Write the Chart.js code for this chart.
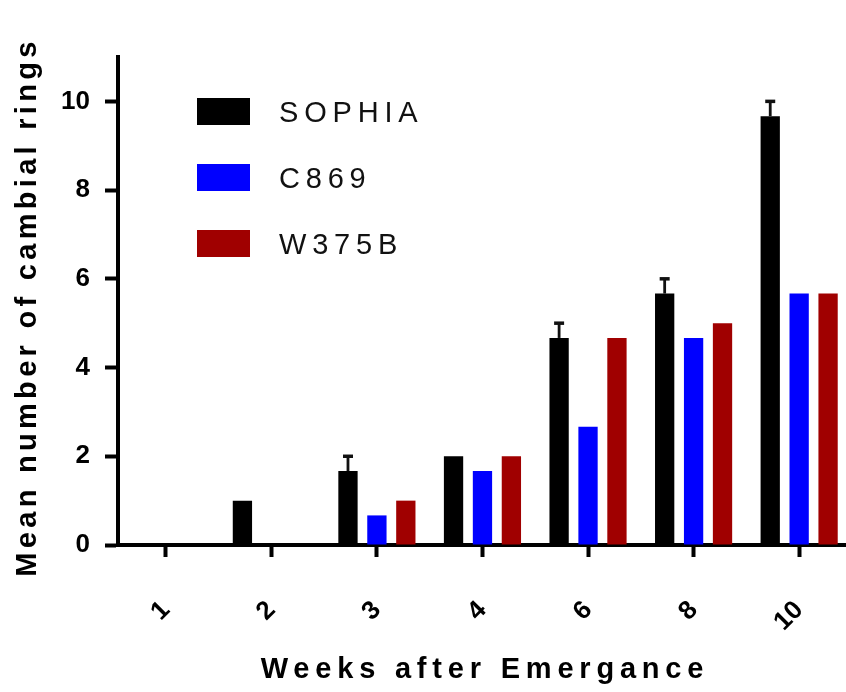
<!DOCTYPE html>
<html><head><meta charset="utf-8">
<script src="https://cdn.jsdelivr.net/npm/chart.js@4.4.0/dist/chart.umd.min.js"></script>
<style>html,body{margin:0;padding:0;background:#fff;overflow:hidden;} #wrap{width:860px;height:692px;}</style>
</head><body><div id="wrap"><canvas id="c" width="860" height="692"></canvas></div>
<script>
// ---- data ----
const weeks = ['1', '2', '3', '4', '6', '8', '10'];
const sophia = [0, 1, 1.667, 2, 4.667, 5.667, 9.667];
const sophiaErr = [0, 0, 0.333, 0, 0.333, 0.333, 0.333];
const c869 = [0, 0, 0.667, 1.667, 2.667, 4.667, 5.667];
const w375b = [0, 0, 1, 2, 4.667, 5, 5.667];
const seriesNames = ['SOPHIA', 'C869', 'W375B'];
const yTicks = [0, 2, 4, 6, 8, 10];
const xTitle = 'Weeks after Emergance';
const yTitle = 'Mean number of cambial rings';

// ---- styles ----
const colors = ['#000000', '#0000ff', '#a00000'];
const FONT = '"Liberation Sans", Arial, Helvetica, sans-serif';
Chart.defaults.font.family = FONT;
Chart.defaults.color = '#000';

const titleSpacing = { x: '5.8px', y: '4.3px' };
const titleShift = { x: [0, 0], y: [0, 6] };

const spacingPlugin = {
  id: 'titleSpacing',
  beforeDraw(chart) {
    for (const s of Object.values(chart.scales)) {
      if (s._lsWrapped) continue;
      const orig = s.drawTitle.bind(s);
      const sp = titleSpacing[s.id] || '0px';
      const sh = titleShift[s.id] || [0, 0];
      s.drawTitle = function () {
        const ctx = this.ctx;
        ctx.save();
        ctx.translate(sh[0], sh[1]);
        ctx.letterSpacing = sp;
        orig();
        ctx.restore();
      };
      s._lsWrapped = true;
    }
  }
};

const xRangePlugin = {
  id: 'xRange',
  afterLayout(chart) {
    const x = chart.scales.x;
    x._startPixel -= 5;
    x._length += 5;
  }
};

const errorBarPlugin = {
  id: 'errorBars',
  afterDatasetsDraw(chart) {
    const ctx = chart.ctx;
    const y = chart.scales.y;
    chart.data.datasets.forEach((ds, di) => {
      if (!ds.errors) return;
      const meta = chart.getDatasetMeta(di);
      meta.data.forEach((bar, i) => {
        const e = ds.errors[i];
        if (!e) return;
        const top = y.getPixelForValue(ds.data[i] + e);
        ctx.save();
        ctx.strokeStyle = '#111';
        ctx.lineWidth = 2.8;
        ctx.beginPath();
        ctx.moveTo(bar.x, bar.y);
        ctx.lineTo(bar.x, top);
        ctx.stroke();
        ctx.lineWidth = 3.5;
        ctx.beginPath();
        ctx.moveTo(bar.x - 5, top);
        ctx.lineTo(bar.x + 5, top);
        ctx.stroke();
        ctx.restore();
      });
    });
  }
};

const legendPlugin = {
  id: 'insetLegend',
  afterDraw(chart) {
    const ctx = chart.ctx;
    const bx = 197, by = 98, bw = 53, bh = 27, step = 66, tx = 279;
    ctx.save();
    ctx.font = '29px ' + FONT;
    ctx.letterSpacing = '5.8px';
    ctx.textBaseline = 'middle';
    ctx.textAlign = 'left';
    chart.data.datasets.forEach((ds, i) => {
      const yy = by + i * step;
      ctx.fillStyle = ds.backgroundColor;
      ctx.fillRect(bx, yy, bw, bh);
      ctx.fillStyle = '#111';
      ctx.fillText(ds.label, tx, yy + bh / 2 + 2);
    });
    ctx.restore();
  }
};

new Chart(document.getElementById('c'), {
  type: 'bar',
  data: {
    labels: weeks,
    datasets: [
      { label: seriesNames[0], data: sophia, errors: sophiaErr, backgroundColor: colors[0] },
      { label: seriesNames[1], data: c869, backgroundColor: colors[1] },
      { label: seriesNames[2], data: w375b, backgroundColor: colors[2] }
    ]
  },
  options: {
    responsive: false,
    animation: false,
    devicePixelRatio: 1,
    layout: { padding: { top: 57, right: 6, left: 0, bottom: 0 } },
    datasets: { bar: { categoryPercentage: 0.822, barPercentage: 0.667, borderWidth: 0 } },
    plugins: { legend: { display: false }, tooltip: { enabled: false } },
    scales: {
      x: {
        grid: { drawOnChartArea: false, drawTicks: true, tickLength: 12, tickWidth: 4, tickColor: '#000', offset: false },
        border: { display: true, width: 4, color: '#000' },
        ticks: { minRotation: 45, maxRotation: 45, padding: 38, font: { size: 26, weight: 'bold' }, color: '#000' },
        title: { display: true, text: xTitle, font: { size: 29, weight: 'bold' }, color: '#000', padding: { top: 0, bottom: 5 } },
        afterFit(s) { s.height = 147; }
      },
      y: {
        min: 0, max: 11,
        afterBuildTicks(s) { s.ticks = yTicks.map(v => ({ value: v })); },
        grid: { drawOnChartArea: false, drawTicks: true, tickLength: 13, tickWidth: 4, tickColor: '#000' },
        border: { display: true, width: 4, color: '#000' },
        ticks: { padding: 15, font: { size: 26, weight: 'bold' }, color: '#000' },
        title: { display: true, text: yTitle, font: { size: 29, weight: 'bold' }, color: '#000', padding: { top: 11, bottom: 0 } },
        afterFit(s) { s.width = 118; }
      }
    }
  },
  plugins: [spacingPlugin, xRangePlugin, errorBarPlugin, legendPlugin]
});
</script>
</body></html>
